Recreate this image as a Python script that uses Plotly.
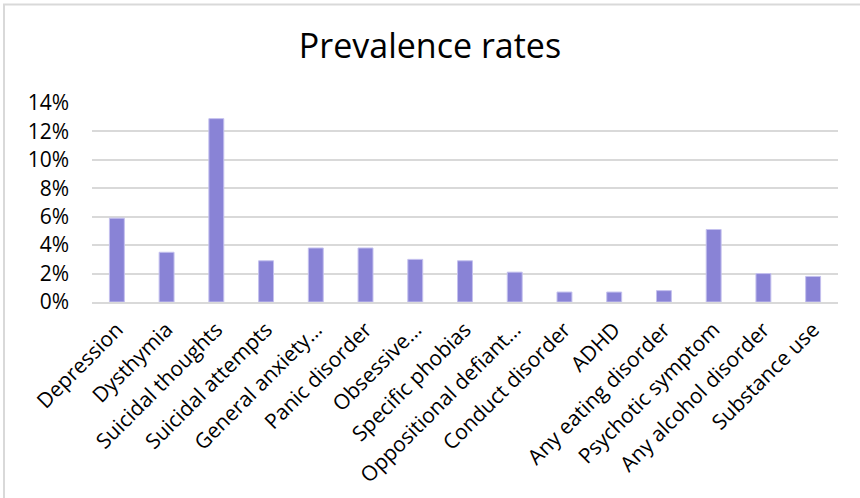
import plotly.graph_objects as go

# Prevalence of mental health conditions (% of sample)
categories = [
    "Depression", "Dysthymia", "Suicidal thoughts", "Suicidal attempts",
    "General anxiety…", "Panic disorder", "Obsessive…", "Specific phobias",
    "Oppositional defiant…", "Conduct disorder", "ADHD", "Any eating disorder",
    "Psychotic symptom", "Any alcohol disorder", "Substance use",
]
rates = [5.9, 3.5, 12.9, 2.9, 3.8, 3.8, 3.0, 2.9, 2.1, 0.7, 0.7, 0.8, 5.1, 2.0, 1.8]
y_ticks = [0, 2, 4, 6, 8, 10, 12, 14]
y_tick_labels = [f"{t}%" for t in y_ticks]

W, H = 860, 498
L, R, T, B = 92, 22, 103, 196
pw, ph = W - L - R, H - T - B

FONT = "Open Sans"

fig = go.Figure(
    go.Bar(
        x=categories,
        y=rates,
        marker=dict(color="#8983d6", line=dict(color="#c4c1ee", width=1)),
        hoverinfo="x+y",
    )
)

# light grey frame around the whole chart, running off the right/bottom edges
def px_to_paper_x(px):
    return (px - L) / pw

def px_to_paper_y(py):
    return (H - B - py) / ph

fig.add_shape(
    type="rect", xref="paper", yref="paper",
    x0=px_to_paper_x(4), x1=px_to_paper_x(870),
    y0=px_to_paper_y(510), y1=px_to_paper_y(4.5),
    line=dict(color="#d9d9d9", width=2), fillcolor="rgba(0,0,0,0)", layer="below",
)

fig.update_layout(
    width=W, height=H,
    margin=dict(l=L, r=R, t=T, b=B, pad=0, autoexpand=False),
    paper_bgcolor="white", plot_bgcolor="white",
    bargap=0.7,
    showlegend=False,
    title=dict(
        text="Prevalence rates", x=0.5, xanchor="center",
        y=1 - 46 / H, yanchor="middle",
        font=dict(family=FONT, size=34, color="#000000"),
    ),
    font=dict(family=FONT, color="#000000"),
)

fig.update_xaxes(
    tickangle=-45, tickfont=dict(size=21, color="#000000"),
    showgrid=False, showline=True, linecolor="#d9d9d9", linewidth=2,
    ticks="", ticklabelstandoff=5, fixedrange=True, automargin=False,
)
fig.update_yaxes(
    range=[0, 14], tickvals=y_ticks, ticktext=y_tick_labels,
    tickfont=dict(size=21, color="#000000"),
    showgrid=True, gridcolor="#d9d9d9", gridwidth=2,
    zeroline=False, showline=False, ticks="", ticklabelstandoff=22,
    fixedrange=True, automargin=False,
)

fig.write_html("out.html")
